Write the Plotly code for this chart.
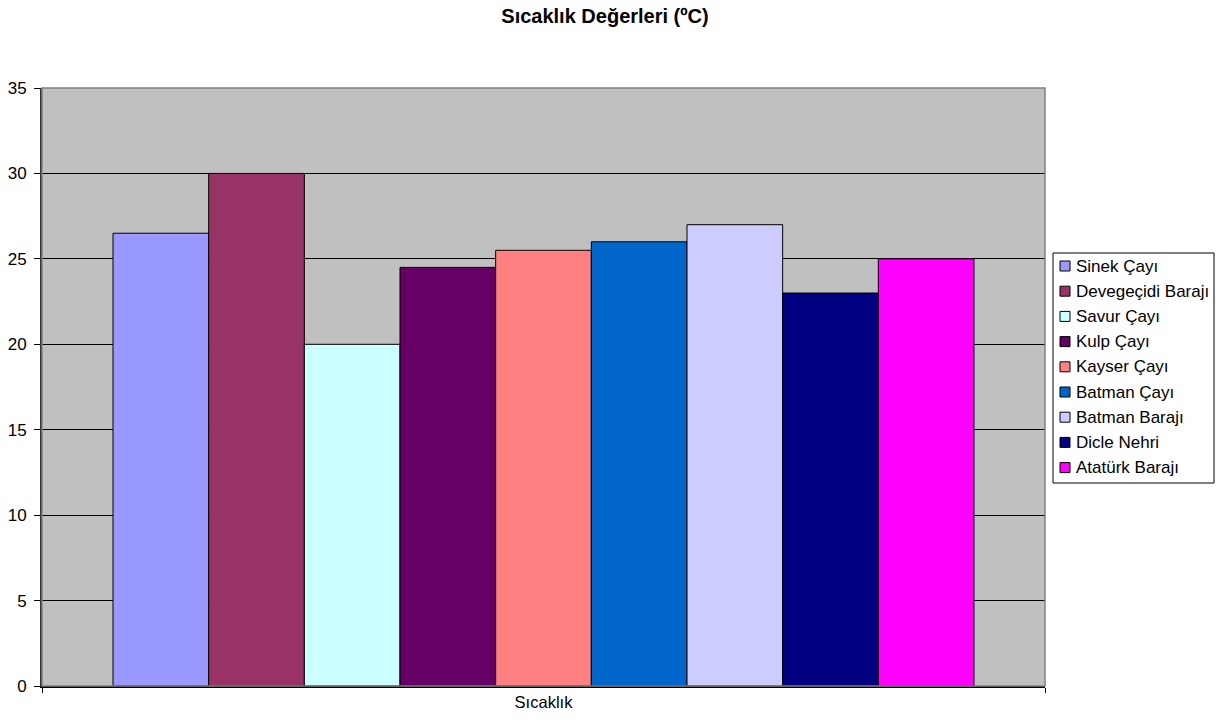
import plotly.graph_objects as go

category = ["Sıcaklık"]
series_names = [
    "Sinek Çayı", "Devegeçidi Barajı", "Savur Çayı", "Kulp Çayı",
    "Kayser Çayı", "Batman Çayı", "Batman Barajı", "Dicle Nehri", "Atatürk Barajı",
]
series_values = [26.5, 30, 20, 24.5, 25.5, 26, 27, 23, 25]
series_colors = [
    "#9999FF", "#993366", "#CCFFFF", "#660066",
    "#FF8080", "#0066CC", "#CCCCFF", "#000080", "#FF00FF",
]
y_ticks = [0, 5, 10, 15, 20, 25, 30, 35]

W, H = 1220, 726
ML, MR, MT, MB = 42, 175, 88, 40
FONT = "Liberation Sans, Arial, sans-serif"

fig = go.Figure()
for name, val, col in zip(series_names, series_values, series_colors):
    fig.add_trace(go.Bar(
        x=category, y=[val], name=name, showlegend=False,
        marker=dict(color=col, line=dict(color="black", width=1)),
    ))

# legend box drawn in pixel-based paper coordinates
pw, ph = W - ML - MR, H - MT - MB
def px_x(x):
    return (x - ML) / pw
def px_y(y):
    return (H - MB - y) / ph

shapes = [
    # plot-area frame (grey, top and right)
    dict(type="rect", xref="paper", yref="paper", x0=0, x1=1, y0=0, y1=1,
         line=dict(color="#808080", width=1.5), layer="above"),
    # legend frame
    dict(type="rect", xref="paper", yref="paper",
         x0=px_x(1053), x1=px_x(1214), y0=px_y(483), y1=px_y(253),
         line=dict(color="black", width=1), fillcolor="white", layer="above"),
]
annotations = []
for i, (name, col) in enumerate(zip(series_names, series_colors)):
    cy = 266 + 25.2 * i
    shapes.append(dict(
        type="rect", xref="paper", yref="paper",
        x0=px_x(1060), x1=px_x(1070), y0=px_y(cy + 5), y1=px_y(cy - 5),
        fillcolor=col, line=dict(color="black", width=1), layer="above",
    ))
    annotations.append(dict(
        text=name, xref="paper", yref="paper", x=px_x(1074), y=px_y(cy),
        xanchor="left", yanchor="middle", showarrow=False,
        font=dict(size=17, family=FONT, color="black"),
    ))

fig.update_layout(
    width=W, height=H,
    margin=dict(l=ML, r=MR, t=MT, b=MB, autoexpand=False),
    paper_bgcolor="white",
    plot_bgcolor="#C0C0C0",
    barmode="group",
    bargap=0.1416,
    bargroupgap=0,
    font=dict(family=FONT, size=17, color="black"),
    title=dict(
        text="<b>Sıcaklık Değerleri (ºC)</b>",
        x=605 / W, xanchor="center", y=1 - 16 / H, yanchor="middle",
        font=dict(size=20, color="black"),
    ),
    showlegend=False,
    shapes=shapes,
    annotations=annotations,
    xaxis=dict(
        type="category",
        showgrid=False,
        ticks="outside", ticklen=5, tickcolor="black",
        tickson="boundaries",
        showline=True, linecolor="black", linewidth=1.5,
        tickfont=dict(size=16.5),
    ),
    yaxis=dict(
        range=[0, 35], tickvals=y_ticks,
        showgrid=True, gridcolor="black", gridwidth=1,
        ticks="outside", ticklen=6, tickcolor="black",
        ticklabelstandoff=4,
        showline=True, linecolor="#333333", linewidth=2,
        zeroline=False,
        tickfont=dict(size=17),
    ),
)

fig.write_html("out.html")
